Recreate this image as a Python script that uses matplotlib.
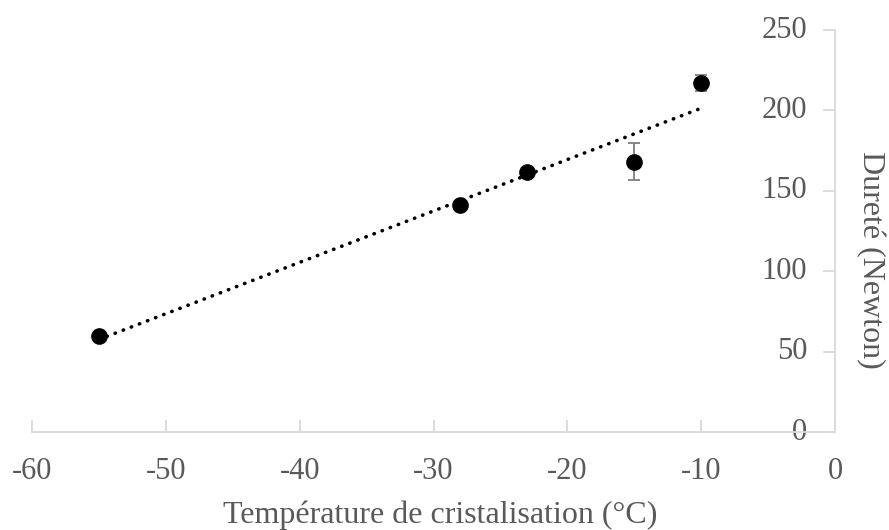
import numpy as np
import matplotlib.pyplot as plt

# Données
temperature = [-55, -28, -23, -15, -10]      # °C
durete = [60, 141, 162, 168, 217]            # Newton
erreur = [2, 2, 2, 11.5, 5]

GRIS_TEXTE = "#595959"
GRIS_AXE = "#d9d9d9"
GRIS_ERR = "#7f7f7f"

plt.rcParams["font.family"] = ["Liberation Serif", "DejaVu Serif"]
plt.rcParams["axes.unicode_minus"] = False

fig = plt.figure(figsize=(8.89, 5.30), dpi=100)
ax = fig.add_axes([32 / 889, (530 - 432) / 530, 803 / 889, 402 / 530])

# courbe de tendance linéaire (moindres carrés)
pente, origine = np.polyfit(temperature, durete, 1)
xt = np.array([min(temperature), max(temperature)])
ax.plot(xt, pente * xt + origine, color="black", linewidth=2.6,
        linestyle=(0, (0.1, 2.3)), dash_capstyle="round", zorder=2)

ax.errorbar(temperature, durete, yerr=erreur, fmt="o", color="black",
            markersize=11, ecolor=GRIS_ERR, elinewidth=1.3, capsize=4.5,
            capthick=1.3, zorder=3)

ax.set_xlim(-60, 0)
ax.set_ylim(0, 250)
ax.set_xticks(np.arange(-60, 1, 10))
ax.set_yticks(np.arange(0, 251, 50))

# axe vertical placé à x = 0 (bord droit)
ax.spines["left"].set_position(("data", 0))
ax.spines["right"].set_visible(False)
ax.spines["top"].set_visible(False)
for s in ("left", "bottom"):
    ax.spines[s].set_color(GRIS_AXE)
    ax.spines[s].set_linewidth(1.3)

ax.tick_params(axis="x", direction="in", length=9, width=1.3, color=GRIS_AXE,
               labelsize=22, labelcolor=GRIS_TEXTE, pad=18)
ax.tick_params(axis="y", direction="out", length=9, width=1.3, color=GRIS_AXE,
               labelsize=22, labelcolor=GRIS_TEXTE, pad=11)
for lab in ax.get_yticklabels():
    lab.set_verticalalignment("center")

fig.text(440 / 889, 1 - 515 / 530, "Température de cristalisation (°C)",
         fontsize=23, color=GRIS_TEXTE, ha="center", va="center")
fig.text(870 / 889, 1 - 260 / 530, "Dureté (Newton)", rotation=-90,
         fontsize=23, color=GRIS_TEXTE, ha="center", va="center")

fig.savefig("out.png", dpi=100, facecolor="white")
